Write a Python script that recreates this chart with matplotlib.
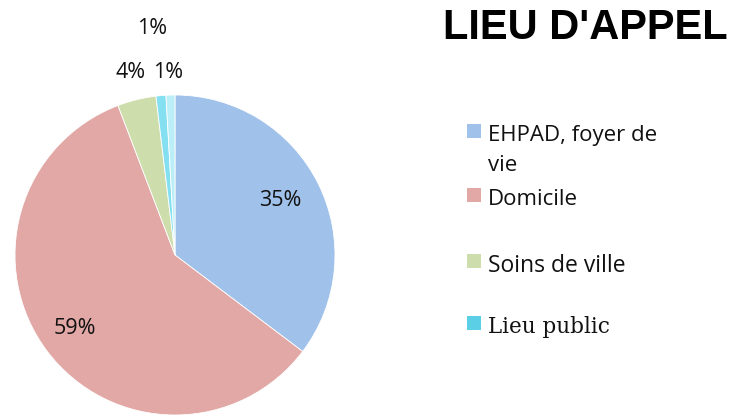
import matplotlib
matplotlib.use("Agg")
import matplotlib.pyplot as plt
from matplotlib.patches import Rectangle

# data
categories = ["EHPAD, foyer de vie", "Domicile", "Soins de ville", "Lieu public", ""]
values = [35.3, 58.9, 3.9, 1.0, 0.9]
pct_labels = ["35%", "59%", "4%", "1%", "1%"]
colors = ["#A0C1E9", "#E1A8A6", "#CEDDAC", "#84DFF0", "#BCEEF8"]

W, H = 734, 418
fig = plt.figure(figsize=(W / 100, H / 100), dpi=100)


def fx(px):
    return px / W


def fy(py):
    return 1 - py / H


# pie: centre (175, 255), radius 160 px
ax = fig.add_axes([fx(15), fy(415), 320 / W, 320 / H])
ax.pie(values, colors=colors, startangle=90, counterclock=False,
       radius=1, wedgeprops=dict(edgecolor="white", linewidth=0.6))
ax.set_xlim(-1, 1)
ax.set_ylim(-1, 1)
ax.set_aspect("equal")
ax.axis("off")

# percentage labels (pixel positions of the text centres)
label_pos = [(280, 201), (75, 329), (131, 73), (168, 73), (152, 29)]
for txt, (px, py) in zip(pct_labels, label_pos):
    fig.text(fx(px), fy(py), txt, ha="center", va="center",
             fontsize=15.5, family="Open Sans", color="#111111")

# title
fig.text(fx(585), fy(28), "LIEU D'APPEL", ha="center", va="center",
         fontsize=30, fontweight="bold", family="Liberation Sans")

# legend
leg_rows = [
    ("EHPAD, foyer de", colors[0], 133, "Open Sans", 16),
    ("vie", None, 163, "Open Sans", 16),
    (categories[1], colors[1], 197, "Open Sans", 16),
    (categories[2], colors[2], 263, "Open Sans", 16.5),
    (categories[3], "#5ACFE6", 325, "DejaVu Serif", 15.5),
]
for text, col, py, fam, fs in leg_rows:
    if col is not None:
        fig.patches.append(Rectangle((fx(467), fy(py + 5)), 14 / W, 14 / H,
                                     transform=fig.transFigure, facecolor=col,
                                     edgecolor="none"))
    fig.text(fx(488), fy(py), text, ha="left", va="center_baseline",
             fontsize=fs, family=fam, color="#111111")

fig.savefig("out.png", dpi=100)
